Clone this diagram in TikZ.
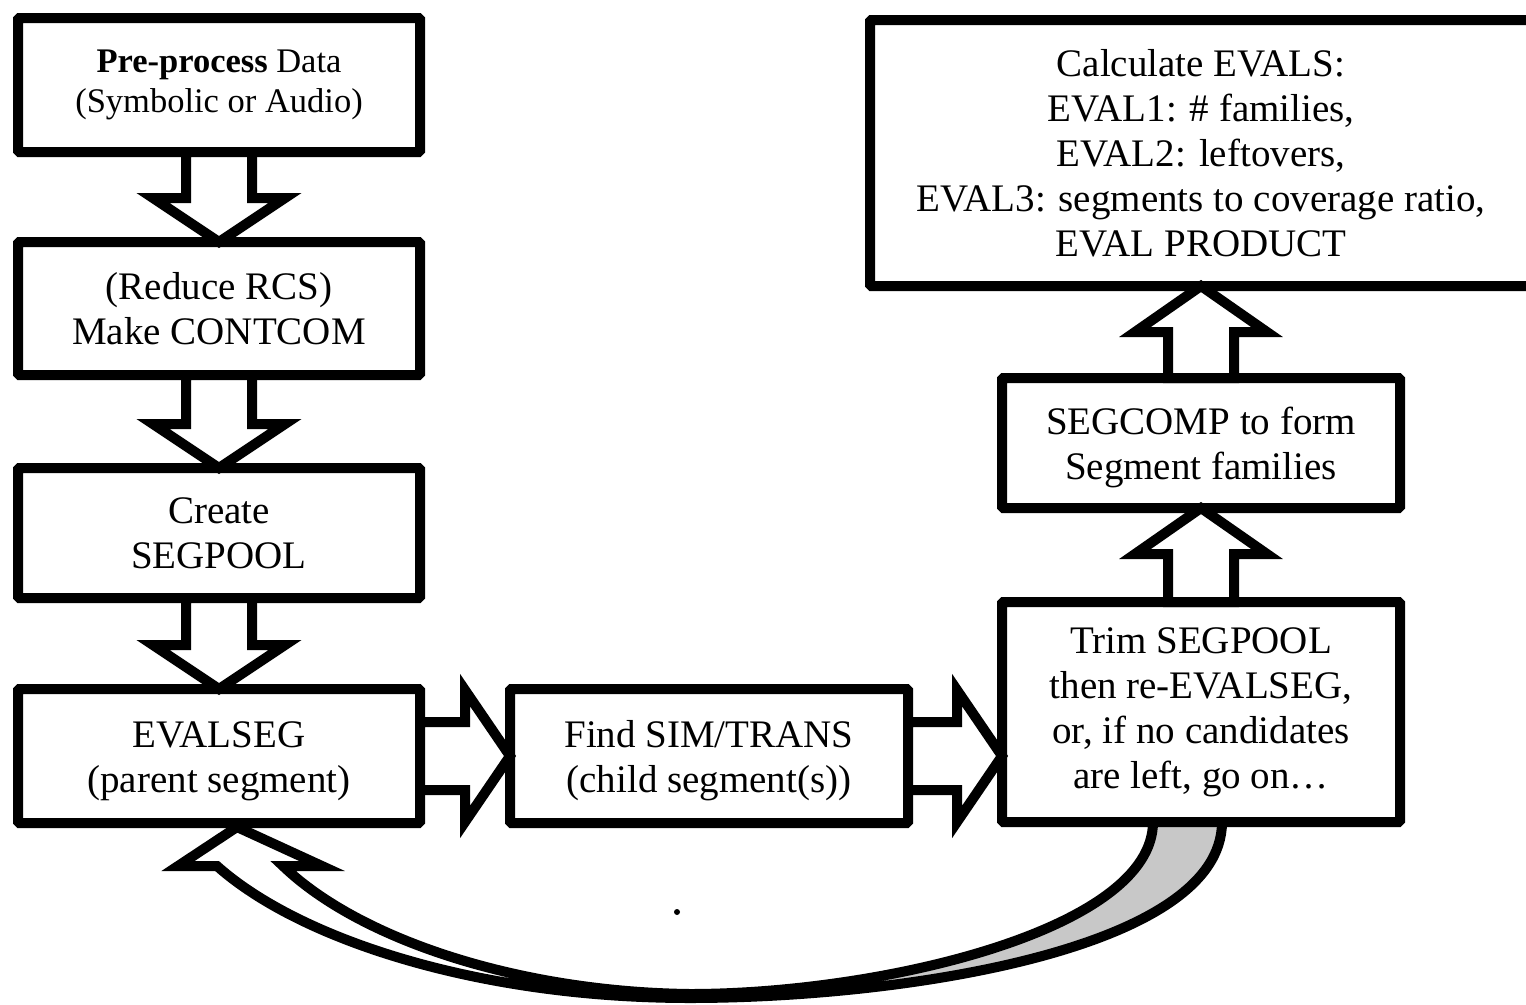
\documentclass[tikz,border=0pt]{standalone}
\usepackage{fontspec}
\setmainfont{Liberation Serif}
\usetikzlibrary{calc}
\definecolor{shadegray}{HTML}{C8C8C8}
\pgfdeclarelayer{bg}
\pgfsetlayers{bg,main}
\newcommand\arrowdown[2]{%
  \draw[barrow] ($(#1.south)+(-33,0)$) -- ($(#2.north)+(-33,-44)$) -- ($(#2.north)+(-66,-44)$)
    -- (#2.north) -- ($(#2.north)+(66,-44)$) -- ($(#2.north)+(33,-44)$) -- ($(#1.south)+(33,0)$) -- cycle;}
\newcommand\arrowup[2]{%
  \draw[barrow] ($(#1.north)+(-33,0)$) -- ($(#2.south)+(-33,46)$) -- ($(#2.south)+(-66,46)$)
    -- (#2.south) -- ($(#2.south)+(66,46)$) -- ($(#2.south)+(33,46)$) -- ($(#1.north)+(33,0)$) -- cycle;}
\newcommand\arrowright[2]{%
  \coordinate (rtip) at (#1.east -| #2.west);
  \draw[barrow] ($(#1.east)+(0,-34)$) -- ($(rtip)+(-45,-34)$) -- ($(rtip)+(-45,-66)$)
    -- (rtip) -- ($(rtip)+(-45,66)$) -- ($(rtip)+(-45,34)$) -- ($(#1.east)+(0,34)$) -- cycle;}
\newcommand\lowerby{\rule{0pt}{37pt}}
\begin{document}
\begin{tikzpicture}[x=1pt,y=-1pt,
  box/.style={draw, line width=10pt, fill=white, rectangle, inner sep=0pt, outer sep=0pt,
    align=center, font=\fontsize{39}{45}\selectfont, rounded corners=1.5pt},
  barrow/.style={draw, line width=10pt, fill=white, line join=miter},
  curvarrow/.style={draw, line width=10pt, line join=miter}]
\useasboundingbox (0,0) rectangle (1526,1004);

% boxes
\node[box, minimum width=402, minimum height=134, font=\fontsize{34.5}{39.5}\selectfont] (b1) at (219,85)
  {\textbf{Pre-process} Data\\(Symbolic or Audio)};
\node[box, minimum width=402, minimum height=133] (b2) at (219,308.5) {(Reduce RCS)\\Make CONTCOM};
\node[box, minimum width=402, minimum height=130] (b3) at (219,533) {Create\\SEGPOOL};
\node[box, minimum width=402, minimum height=134] (b4) at (219,756) {\lowerby EVALSEG\\(parent segment)};
\node[box, minimum width=398, minimum height=134] (b5) at (709,756) {\lowerby Find SIM/TRANS\\(child segment(s))};
\node[box, minimum width=398, minimum height=220] (b6) at (1201,712)
  {Trim SEGPOOL\\then re-EVALSEG,\\or, if no candidates\\are left, go on\dots};
\node[box, minimum width=398, minimum height=130] (b7) at (1201,443) {\lowerby SEGCOMP to form\\Segment families};
\node[box, minimum width=662, minimum height=266] (b8) at (1201,153)
  {Calculate EVALS:\\EVAL1: \# families,\\EVAL2: leftovers,\\EVAL3: segments to coverage ratio,\\EVAL PRODUCT};

% block arrows
\arrowdown{b1}{b2}
\arrowdown{b2}{b3}
\arrowdown{b3}{b4}
\arrowright{b4}{b5}
\arrowright{b5}{b6}
\arrowup{b6}{b7}
\arrowup{b7}{b8}

% curved return arrow
\coordinate (aend) at ($(b6.south)+(21,0)$);
\coordinate (bend) at ($(b6.south)+(-48,0)$);
\coordinate (astart) at ($(b4.south)+(-2,43)$);
\coordinate (bstart) at ($(b4.south)+(64,43)$);
\coordinate (lbarb) at ($(b4.south)+(-41,43)$);
\coordinate (rbarb) at ($(b4.south)+(103,43)$);
\coordinate (ctip) at ($(b4.south)+(18,4)$);
\begin{pgfonlayer}{bg}
\fill[shadegray] (690,998) .. controls (900,998) and (1222,950) .. (aend) -- (bend)
  .. controls (1153,930) and (880,994) .. (690,994) -- cycle;
\draw[curvarrow] (aend) .. controls (1222,950) and (900,998) .. (690,998)
  .. controls (480,998) and (300,940) .. (astart) -- (lbarb) -- (ctip) -- (rbarb) -- (bstart)
  .. controls (360,940) and (520,992) .. (690,994) .. controls (880,994) and (1153,930) .. (bend);
\end{pgfonlayer}

% stray dot
\fill (677,912) circle (3);
\end{tikzpicture}
\end{document}
